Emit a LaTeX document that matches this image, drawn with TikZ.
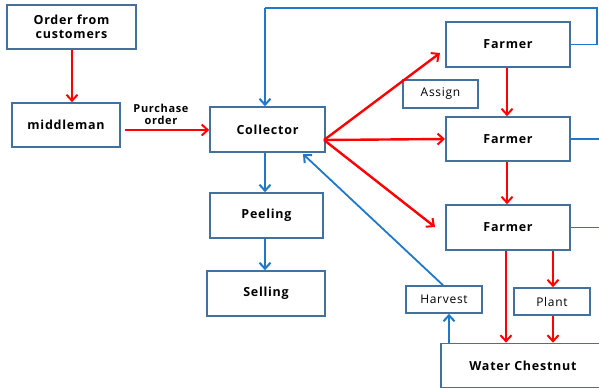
\documentclass[tikz,border=0pt]{standalone}
\usepackage{fontspec}
\setmainfont{Open Sans}
\usetikzlibrary{arrows.meta,calc}
\definecolor{boxc}{HTML}{41719C}
\definecolor{bluec}{HTML}{1F78C8}
\definecolor{redc}{HTML}{FF0000}
\newfontfamily\widefont[LetterSpace=6]{Open Sans}
\tikzset{
  box/.style={draw=boxc,line width=1.6pt,fill=white,inner sep=0pt,align=center,font=\widefont\fontsize{12.5}{14}\selectfont\bfseries},
  smallbox/.style={box,font=\widefont\fontsize{12}{14}\selectfont},
  redarr/.style={draw=redc,line width=2.4pt,-{Straight Barb[length=6pt,width=11pt,line width=2pt]}},
  bluearr/.style={draw=bluec,line width=2.4pt,-{Straight Barb[length=6pt,width=11pt,line width=2pt]}},
  blueline/.style={draw=bluec,line width=1.6pt},
  bluethin/.style={draw=bluec,line width=1.8pt,-{Straight Barb[length=6pt,width=11pt,line width=2pt]}},
}
\begin{document}
\begin{tikzpicture}[x=1pt,y=-1pt]
\useasboundingbox (0,0) rectangle (599,388);
\clip (0,0) rectangle (599,388);
\node[box,minimum width=129,minimum height=44] (order) at (71.5,27) {Order from\\customers};
\node[box,minimum width=108,minimum height=44] (middle) at (66,125) {middleman};
\node[box,minimum width=115,minimum height=45] (coll) at (267.5,129.5) {Collector};
\node[box,minimum width=113,minimum height=45] (peel) at (266.5,215.5) {Peeling};
\node[box,minimum width=118,minimum height=45] (sell) at (266,293.5) {Selling};
\node[box,minimum width=124,minimum height=45] (f1) at (508,44.5) {Farmer};
\node[box,minimum width=124,minimum height=44] (f2) at (508,139) {Farmer};
\node[box,minimum width=124,minimum height=45] (f3) at (508,227.5) {Farmer};
\node[smallbox,minimum width=75,minimum height=28] (assign) at (440.5,94) {Assign};
\node[smallbox,minimum width=76,minimum height=27] (plant) at (552,301.5) {Plant};
\node[smallbox,minimum width=76,minimum height=27] (harvest) at (444,299.5) {Harvest};
\node[box,minimum width=164,minimum height=44] (water) at (523,365.5) {Water Chestnut};
\node[font=\widefont\fontsize{11}{12}\selectfont\bfseries,align=center,inner sep=0pt] (po) at (161,114) {Purchase\\order};
% top feedback line
\coordinate (tr) at (597,8);
\coordinate (tl) at (265,8);
\draw[blueline] (f1.east) -- (f1.east -| tr) -- (tr) -- (tl);
\draw[bluearr] (tl) -- (tl |- coll.north);
\draw[blueline] (f2.east) -- (f2.east -| 605,0);
\draw[blueline] (f3.east) -- (f3.east -| 605,0);
% left chain
\draw[redarr] (order.south -| 72,0) -- (middle.north -| 72,0);
\coordinate (pos) at (125,130);
\draw[redarr] (pos) -- (coll.west |- pos);
\draw[bluearr] (coll.south -| tl) -- (peel.north -| tl);
\draw[bluearr] (peel.south -| tl) -- (sell.north -| tl);
% fan
\coordinate (fan) at (324,140);
\coordinate (t1) at (440,53);
\coordinate (t2) at (445,139);
\coordinate (t3) at (435,227);
\draw[redarr] (fan) -- (t1);
\draw[redarr] (fan) -- (t2);
\draw[redarr] (fan) -- (t3);
% farmer chain
\draw[redarr] (f1.south -| 507,0) -- (f2.north -| 507,0);
\draw[redarr] (f2.south -| 507,0) -- (f3.north -| 507,0);
\draw[redarr] (f3.south -| 506,0) -- (water.north -| 506,0);
\draw[redarr] (f3.south -| 553,0) -- (plant.north -| 553,0);
\draw[redarr] (plant.south -| 553,0) -- (water.north -| 553,0);
% harvest
\draw[bluearr] (water.north -| 449,0) -- (harvest.south -| 449,0);
\draw[bluethin] (harvest.north -| 443,0) -- (303,154);
\end{tikzpicture}
\end{document}
